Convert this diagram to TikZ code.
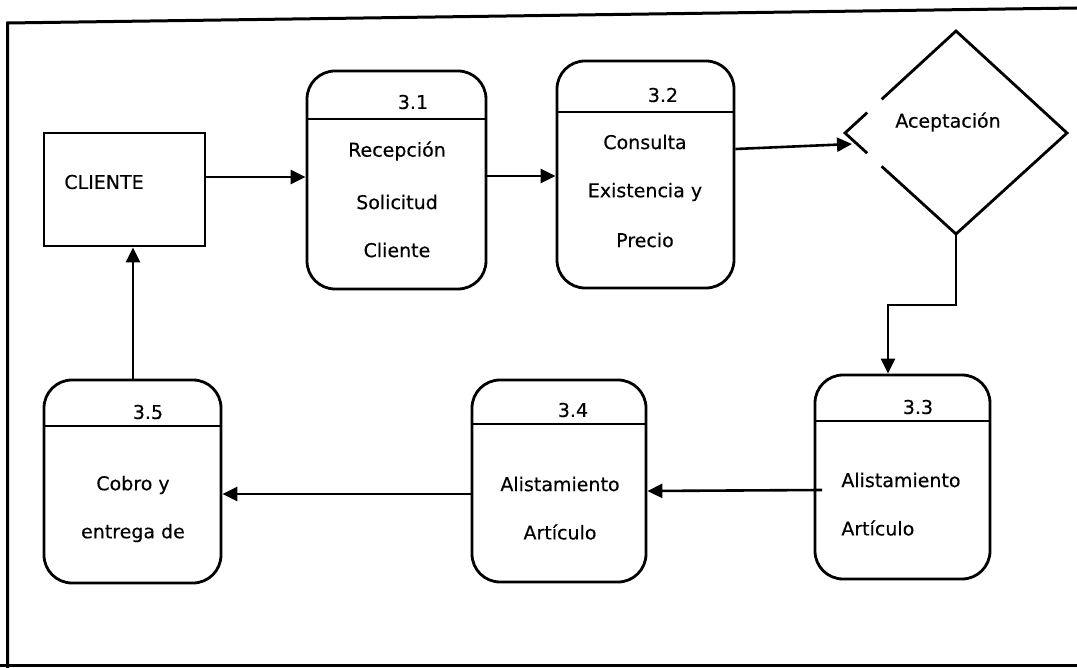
\documentclass[tikz,border=0pt]{standalone}
\usepackage{fontspec}
\setmainfont{DejaVu Sans}[FakeBold=0.35]
\usetikzlibrary{arrows.meta,calc}
\begin{document}
\begin{tikzpicture}[x=1pt,y=-1pt,
  line width=2.8pt,
  every node/.style={font=\fontsize{19}{22}\selectfont},
  proc/.style={draw,rounded corners=28pt,inner sep=0pt},
  ent/.style={draw,inner sep=0pt},
  txt/.style={inner sep=0pt,draw=none},
  flow/.style={-{Triangle[length=15pt,width=14pt]},line width=2.6pt}]
\useasboundingbox (0,0) rectangle (1077,668);
% frame
\draw[line width=3pt] (1077,8) -- (7.5,23) -- (7.5,668);
\draw[line width=3pt] (0,665) -- (1077,665);
% entity
\node[ent,minimum width=161pt,minimum height=113pt] (cli) at (124.5,189.5) {};
\node[txt,anchor=west] (clit) at (63,182) {CLIENTE};
% processes
\node[proc,minimum width=179pt,minimum height=218pt] (p31) at (396.5,180) {};
\node[proc,minimum width=177pt,minimum height=227pt] (p32) at (645.5,174.5) {};
\node[proc,minimum width=175pt,minimum height=204pt] (p33) at (902.5,477) {};
\node[proc,minimum width=174pt,minimum height=202pt] (p34) at (559,481) {};
\node[proc,minimum width=177pt,minimum height=203pt] (p35) at (132.5,481.5) {};
% header lines
\draw (p31.west |- 0,119) -- (p31.east |- 0,119);
\draw (p32.west |- 0,112) -- (p32.east |- 0,112);
\draw (p33.west |- 0,421) -- (p33.east |- 0,421);
\draw (p34.west |- 0,424) -- (p34.east |- 0,424);
\draw (p35.west |- 0,426) -- (p35.east |- 0,426);
% ids
\node[txt] (n31) at (413,102) {3.1};
\node[txt] (n32) at (663,95) {3.2};
\node[txt] (n33) at (918,407) {3.3};
\node[txt] (n34) at (573,410) {3.4};
\node[txt] (n35) at (148,412) {3.5};
% texts
\node[txt] (t31a) at (397,151) {Recepción};
\node[txt] (t31b) at (397,202) {Solicitud};
\node[txt] (t31c) at (397,250) {Cliente};
\node[txt] (t32a) at (645,142) {Consulta};
\node[txt] (t32b) at (645,192) {Existencia y};
\node[txt] (t32c) at (645,240) {Precio};
\node[txt,anchor=west] (t33a) at (840,480) {Alistamiento};
\node[txt,anchor=west] (t33b) at (840,528) {Artículo};
\node[txt] (t34a) at (560,484) {Alistamiento};
\node[txt] (t34b) at (560,532) {Artículo};
\node[txt] (t35a) at (133,485) {Cobro y};
\node[txt] (t35b) at (133,533) {entrega de};
% diamond
\coordinate (dL) at (845,133);
\coordinate (dT) at (956,31);
\coordinate (dR) at (1067,133);
\coordinate (dB) at (956,234);
\draw ($(dL)!0.33!(dT)$) -- (dT) -- (dR) -- (dB) -- ($(dB)!0.67!(dL)$);
\draw ($(dL)!0.2!(dT)$) -- (dL) -- ($(dL)!0.2!(dB)$);
\node[txt] (acep) at (948,122) {Aceptación};
% flows
\draw[flow] (cli.east |- 0,177) -- (p31.west |- 0,177);
\draw[flow] (p31.east |- 0,176) -- (p32.west |- 0,176);
\coordinate (a3s) at (p32.east |- 0,149);
\coordinate (a3e) at (852,144);
\draw[flow] (a3s) -- (a3e);
\coordinate (k1) at (956,305);
\coordinate (k2) at (888,305);
\draw[flow] (dB) -- (k1) -- (k2) -- (p33.north -| k2);
\coordinate (a5s) at (822,490);
\draw[flow] (a5s) -- (p34.east |- 0,491);
\draw[flow] (p34.west |- 0,494) -- (p35.east |- 0,494);
\draw[flow] (p35.north -| 133,0) -- (cli.south -| 133,0);
\end{tikzpicture}
\end{document}
